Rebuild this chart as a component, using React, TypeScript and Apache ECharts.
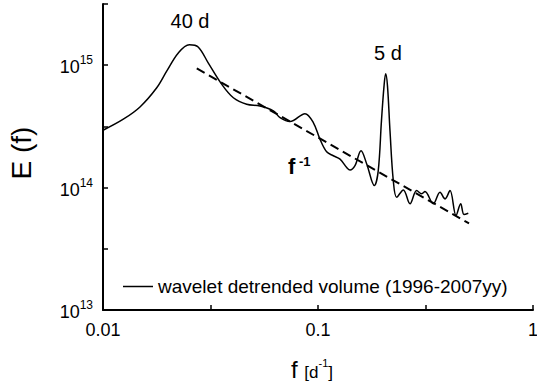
import React, { useEffect, useRef } from "react";
import * as echarts from "echarts";

const FONT = "'Liberation Sans', Arial, sans-serif";

// Wavelet spectrum E(f) of detrended volume
const freq = [
  0.01, 0.01243, 0.01486, 0.01778, 0.01978, 0.0224, 0.0252, 0.0277, 0.0309, 0.0357,
  0.0404, 0.0466, 0.0537, 0.062, 0.0666, 0.0741, 0.087, 0.0951, 0.1021, 0.1097,
  0.1178, 0.1266, 0.136, 0.1409, 0.1486, 0.1585, 0.1685, 0.1828, 0.1906, 0.1973,
  0.2028, 0.2064, 0.2105, 0.2162, 0.224, 0.2323, 0.2494, 0.2679, 0.2877, 0.3036,
  0.3145, 0.3437, 0.3694, 0.3898, 0.4111, 0.4385, 0.461, 0.4775, 0.5,
];
const energy = [
  2.94e14, 3.62e14, 4.56e14, 6.54e14, 8.94e14, 1.26e15, 1.47e15, 1.41e15, 1.04e15, 6.97e14,
  5.42e14, 4.79e14, 4.64e14, 4.23e14, 3.73e14, 3.46e14, 4.02e14, 3.4e14, 2.49e14, 1.96e14,
  1.82e14, 1.71e14, 1.46e14, 1.39e14, 1.51e14, 2.0e14, 1.56e14, 1.04e14, 1.37e14, 3.51e14,
  6.75e14, 8.5e14, 6.75e14, 2.91e14, 1.14e14, 8.34e13, 9.58e13, 7.37e13, 9.45e13, 8.89e13,
  9.28e13, 7.37e13, 9.16e13, 8.09e13, 9.45e13, 5.92e13, 7.37e13, 6.03e13, 6.18e13,
];

// f^-1 reference line endpoints
const fitFreq = [0.0273, 0.504];
const fitEnergy = [9.4e14, 5.1e13];

// axis ranges and tick labels
const xRange = [0.01, 1];
const yRange = [1e13, Math.pow(10, 15.5)];
const xDecades = [-2, -1, 0];
const xTickLabels = ["0.01", "0.1", "1"];
const yDecades = [13, 14, 15];
const yTickLabels = ["13", "14", "15"];

const seriesName = "wavelet detrended volume (1996-2007yy)";

function decadeOf(v: number): number | null {
  const l = Math.log10(v);
  const r = Math.round(l);
  return Math.abs(l - r) < 1e-6 ? r : null;
}

export default function App() {
  const ref = useRef<HTMLDivElement>(null);
  useEffect(() => {
    document.body.style.margin = "0";
    if (!ref.current) return;
    const chart = echarts.init(ref.current, undefined, { renderer: "svg" });
    const solid = freq.map((f, i) => [f, energy[i]]);
    const fit = fitFreq.map((f, i) => [f, fitEnergy[i]]);
    chart.setOption({
      animation: false,
      backgroundColor: "#fff",
      textStyle: { fontFamily: FONT },
      grid: { left: 103, right: 4, top: 4, bottom: 75, containLabel: false, outerBoundsMode: "none" },
      xAxis: {
        type: "log",
        logBase: Math.sqrt(10),
        min: xRange[0],
        max: xRange[1],
        axisLine: { show: true, lineStyle: { color: "#000", width: 2 } },
        axisTick: { show: true, inside: true, length: 5, lineStyle: { color: "#000", width: 1.5 } },
        splitLine: { show: false },
        axisLabel: {
          color: "#000",
          fontSize: 18,
          fontFamily: FONT,
          margin: 11,
          showMinLabel: true,
          showMaxLabel: true,
          hideOverlap: false,
          formatter: (v: number) => {
            const d = decadeOf(v);
            if (d === null) return "";
            const idx = xDecades.indexOf(d);
            return idx >= 0 ? xTickLabels[idx] : "";
          },
        },
      },
      yAxis: {
        type: "log",
        logBase: Math.sqrt(10),
        min: yRange[0],
        max: yRange[1],
        axisLine: { show: true, lineStyle: { color: "#000", width: 2 } },
        axisTick: { show: true, inside: true, length: 5, lineStyle: { color: "#000", width: 1.5 } },
        splitLine: { show: false },
        axisLabel: {
          color: "#000",
          margin: 10,
          showMinLabel: true,
          showMaxLabel: true,
          hideOverlap: false,
          formatter: (v: number) => {
            const d = decadeOf(v);
            if (d === null) return "";
            const idx = yDecades.indexOf(d);
            return idx >= 0 ? `{b|10}{s|${yTickLabels[idx]}}` : "";
          },
          rich: {
            b: { fontSize: 18, fontFamily: FONT, color: "#000", lineHeight: 22, verticalAlign: "bottom" },
            s: { fontSize: 12, fontFamily: FONT, color: "#000", lineHeight: 12, verticalAlign: "top" },
          },
        },
      },
      legend: {
        show: true,
        data: [{ name: seriesName, icon: "rect" }],
        orient: "horizontal",
        left: 118,
        top: 272,
        itemWidth: 30,
        itemHeight: 1.5,
        itemGap: 5,
        itemStyle: { color: "#000", borderWidth: 0 },
        lineStyle: { color: "#000", width: 1.5 },
        textStyle: { color: "#000", fontSize: 19, fontFamily: FONT },
      },
      series: [
        {
          name: seriesName,
          type: "line",
          data: solid,
          symbol: "none",
          smooth: 0.35,
          lineStyle: { color: "#000", width: 1.5 },
          itemStyle: { color: "#000" },
          silent: true,
        },
        {
          name: "fit",
          type: "line",
          data: fit,
          symbol: "none",
          lineStyle: { color: "#000", width: 2, type: [9, 5] },
          itemStyle: { color: "#000" },
          silent: true,
        },
      ],
      graphic: [
        {
          type: "text",
          x: 190,
          y: 21,
          style: { text: "40 d", font: `20px ${FONT}`, fill: "#000", align: "center", verticalAlign: "middle" },
        },
        {
          type: "text",
          x: 388,
          y: 53,
          style: { text: "5 d", font: `20px ${FONT}`, fill: "#000", align: "center", verticalAlign: "middle" },
        },
        {
          type: "text",
          x: 288,
          y: 177,
          style: {
            text: "{f|f}{s| -1}",
            align: "left",
            verticalAlign: "bottom",
            rich: {
              f: { fontSize: 22, fontWeight: "bold", fontFamily: FONT, fill: "#000", lineHeight: 22, verticalAlign: "bottom" },
              s: { fontSize: 13, fontWeight: "bold", fontFamily: FONT, fill: "#000", lineHeight: 13, verticalAlign: "top" },
            },
          },
        },
        {
          type: "text",
          x: 21,
          y: 153,
          rotation: Math.PI / 2,
          style: { text: "E (f)", font: `28px ${FONT}`, fill: "#000", align: "center", verticalAlign: "middle" },
        },
        {
          type: "text",
          x: 291,
          y: 381,
          style: {
            text: "{f|f}{g| }{u|[d}{s|-1}{u|]}",
            align: "left",
            verticalAlign: "bottom",
            rich: {
              f: { fontSize: 24, fontFamily: FONT, fill: "#000", lineHeight: 24, verticalAlign: "bottom" },
              g: { fontSize: 24, fontFamily: FONT, fill: "#000", lineHeight: 24, verticalAlign: "bottom" },
              u: { fontSize: 17, fontFamily: FONT, fill: "#000", lineHeight: 19, verticalAlign: "bottom" },
              s: { fontSize: 11, fontFamily: FONT, fill: "#000", lineHeight: 11, verticalAlign: "top" },
            },
          },
        },
      ],
    });
    return () => chart.dispose();
  }, []);
  return <div ref={ref} style={{ width: 537, height: 385 }} />;
}
